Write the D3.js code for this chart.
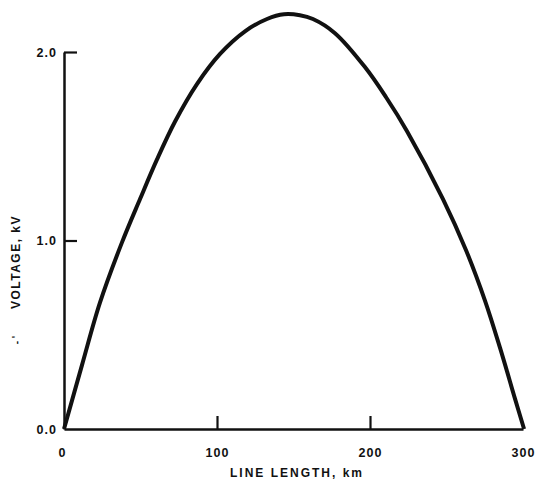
<!DOCTYPE html>
<html>
<head>
<meta charset="utf-8">
<script src="https://cdn.jsdelivr.net/npm/d3@7"></script>
<style>
  body { margin: 0; background: #fff; }
  svg { display: block; }
  text { font-family: "Liberation Sans", Arial, sans-serif; font-weight: bold; fill: #111; }
</style>
</head>
<body>
<script>
// line length (km) and voltage (kV)
const lengthKm = [0, 11.8, 23.5, 37.9, 49.7, 60.8, 72.5, 86.9, 102, 118.3, 132.7, 143.8, 154.2, 162.7,
    177.1, 196.7, 210.5, 224.2, 247.7, 262.7, 275.2, 285, 294.8, 300.7];
const voltageKv = [0, 0.34, 0.67, 0.99, 1.22, 1.43, 1.63, 1.83, 1.99, 2.11, 2.175, 2.2, 2.195, 2.175,
    2.1, 1.92, 1.76, 1.58, 1.22, 0.95, 0.68, 0.43, 0.16, 0];
const xTicks = [0, 100, 200, 300];
const yTicks = [0, 1, 2];

const width = 535, height = 489;

let svg = d3.select("body").append("svg")
    .attr("width", width).attr("height", height);

let x = d3.scaleLinear().domain([0, 300]).range([64, 523]);
let y = d3.scaleLinear().domain([0, 2]).range([429, 52]);

// y axis, ticks pointing inward
let gy = svg.append("g").attr("transform", "translate(" + x(0) + ",0)")
    .call(d3.axisLeft(y).tickValues(yTicks).tickFormat(d3.format(".1f"))
        .tickSize(-13).tickSizeOuter(0).tickPadding(7));

// x axis
let gx = svg.append("g").attr("transform", "translate(0," + y(0) + ")")
    .call(d3.axisBottom(x).tickValues(xTicks).tickFormat(d3.format("d"))
        .tickSize(-13).tickSizeOuter(0).tickPadding(19));

[gx, gy].forEach(function(g) {
    g.select(".domain").attr("stroke", "#111").attr("stroke-width", 2.5);
    g.selectAll(".tick line").attr("stroke", "#111").attr("stroke-width", 2.2);
    g.selectAll(".tick text").attr("font-size", 12.5).attr("letter-spacing", 1)
        .attr("font-family", "Liberation Sans, Arial, sans-serif").attr("fill", "#111");
});

gy.selectAll(".tick").filter(function(d) { return d === 0; }).select("line").remove();
gx.selectAll(".tick").filter(function(d) { return d === 0 || d === 300; }).select("line").remove();
gx.selectAll(".tick").filter(function(d) { return d === 0; }).select("text").attr("dx", -2);

// curve
let pts = lengthKm.map(function(d, i) { return [d, voltageKv[i]]; });
let line = d3.line()
    .x(function(d) { return x(d[0]); })
    .y(function(d) { return y(d[1]); })
    .curve(d3.curveCatmullRom.alpha(0.5));

svg.append("path").datum(pts)
    .attr("fill", "none").attr("stroke", "#111")
    .attr("stroke-width", 4).attr("stroke-linejoin", "round")
    .attr("d", line);

// axis titles
svg.append("text")
    .attr("x", 297).attr("y", 477)
    .attr("text-anchor", "middle").attr("font-size", 12).attr("letter-spacing", 2)
    .text("LINE LENGTH, km");

svg.append("text")
    .attr("transform", "translate(20,262) rotate(-90)")
    .attr("text-anchor", "middle").attr("font-size", 12).attr("letter-spacing", 1.5)
    .text("VOLTAGE, kV");

svg.append("text")
    .attr("transform", "translate(20,340) rotate(-90)")
    .attr("text-anchor", "middle").attr("font-size", 10).attr("fill", "#555")
    .text("- '");
</script>
</body>
</html>
